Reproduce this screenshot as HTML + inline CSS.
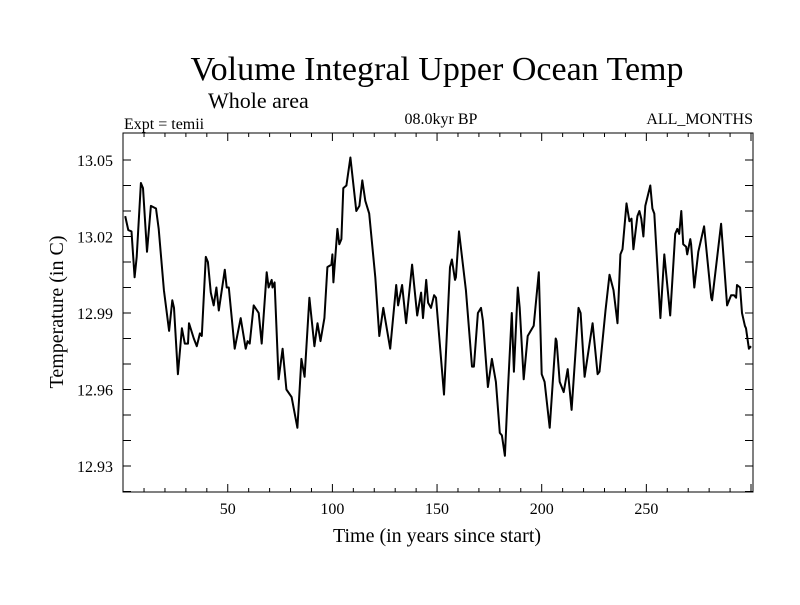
<!DOCTYPE html>
<html><head><meta charset="utf-8"><style>
body{margin:0;background:#fff;}
svg text{font-family:"Liberation Serif",serif;fill:#000;}
</style></head><body>
<svg width="800" height="600" viewBox="0 0 800 600">
<rect width="800" height="600" fill="#fff"/>
<text x="437" y="80" font-size="34" text-anchor="middle">Volume Integral Upper Ocean Temp</text>
<text x="208" y="108" font-size="22">Whole area</text>
<text x="124" y="129" font-size="16">Expt = temii</text>
<text x="441" y="124" font-size="16" text-anchor="middle">08.0kyr BP</text>
<text x="753" y="124" font-size="16" text-anchor="end">ALL_MONTHS</text>
<text x="437" y="542" font-size="20" text-anchor="middle">Time (in years since start)</text>
<text transform="translate(63,312) rotate(-90)" font-size="20" text-anchor="middle">Temperature (in C)</text>
<g id="axes"></g>
<path id="series" fill="none" stroke="#000" stroke-width="2" stroke-linejoin="round"/>
<rect x="123" y="133" width="630" height="359" fill="none" stroke="#000" stroke-width="1"/>
</svg>
<script>
const years=[1,2.5,4,5.5,6.5,8.5,9.5,11.4,13.3,15.7,17,19.5,22,23.5,24.3,26.2,28.1,29.5,31,31.5,33.8,35.2,36.7,37.6,39.5,40.5,41.9,43.3,44.6,45.7,48.6,49.5,50.5,53.3,56.2,58.6,59.5,60.5,62.4,64.8,66.2,68.6,69.5,71,71.4,72.4,74.3,76.2,78,80.5,83.3,85.2,86.7,89,91.4,92.9,94.3,96.2,97.6,99.5,100,100.5,102.4,103.3,104.3,105.2,106.7,108.6,111.4,112.9,114.3,115.7,117.6,120.5,122.4,124.3,127.6,130.5,131.4,133.3,135.2,138.1,140.5,142.4,143.3,144.8,145.7,147.1,148.6,149.5,153.3,156.2,157.1,158.6,159,160.5,163.8,166.7,167.6,169.5,171,171.9,174.3,176.2,178.1,180,181,182.4,183.8,185.7,186.7,188.6,189.5,191.4,193.3,196.2,198.6,200,201.4,203.8,206.7,207.1,208.6,210.5,212.4,214.3,217.6,218.6,220.5,224.3,226.7,227.6,230.5,232.4,234.3,236.2,237.6,238.6,240.5,241.9,242.9,243.8,245.7,246.7,247.6,248.6,249.5,251.9,252.9,253.8,256.7,258.6,261.4,263.8,264.8,265.7,266.7,267.6,269,269.5,271,271.4,272.9,274.8,277.6,281,281.4,285.7,288.6,290.5,291.9,292.9,293.3,294.8,295.7,297.1,297.6,299,300];
const temps=[13.028,13.0225,13.022,13.004,13.012,13.041,13.039,13.014,13.032,13.031,13.023,12.999,12.983,12.995,12.992,12.966,12.984,12.978,12.978,12.986,12.980,12.977,12.982,12.981,13.012,13.010,12.998,12.993,13.000,12.991,13.007,13.000,13.000,12.976,12.988,12.976,12.979,12.978,12.993,12.990,12.978,13.006,13.000,13.003,13.000,13.002,12.964,12.976,12.960,12.957,12.945,12.972,12.965,12.996,12.977,12.986,12.979,12.988,13.008,13.009,13.013,13.002,13.023,13.017,13.019,13.039,13.040,13.051,13.030,13.032,13.042,13.034,13.029,13.004,12.981,12.992,12.976,13.001,12.993,13.001,12.986,13.009,12.989,12.998,12.988,13.003,12.994,12.992,12.997,12.996,12.958,13.008,13.011,13.003,13.004,13.022,12.999,12.969,12.969,12.990,12.992,12.987,12.961,12.972,12.963,12.943,12.942,12.934,12.959,12.990,12.967,13.000,12.992,12.964,12.981,12.985,13.006,12.966,12.963,12.945,12.980,12.979,12.963,12.959,12.968,12.952,12.992,12.990,12.965,12.986,12.966,12.967,12.991,13.005,12.999,12.986,13.013,13.015,13.033,13.026,13.027,13.015,13.028,13.030,13.027,13.020,13.032,13.040,13.031,13.029,12.988,13.013,12.989,13.021,13.023,13.021,13.030,13.017,13.016,13.013,13.019,13.017,13.000,13.014,13.024,12.996,12.995,13.025,12.993,12.997,12.997,12.996,13.001,13.000,12.990,12.985,12.984,12.976,12.977];
const xTickLabels=[50,100,150,200,250];
const yTickLabels=["12.93","12.96","12.99","13.02","13.05"];
const X0=123,X1=753,Y0=133,Y1=492;
function xs(v){return 123.1+(v)*2.093;}
function ys(v){return 160+(13.05-v)*2550;}
const NS="http://www.w3.org/2000/svg";
const ax=document.getElementById('axes');
function mk(tag,attrs){const e=document.createElementNS(NS,tag);for(const k in attrs)e.setAttribute(k,attrs[k]);ax.appendChild(e);return e;}
for(let t=10;t<=300;t+=10){
  const len=(t%50===0)?8:4;const x=xs(t);
  const b=mk('line',{x1:x,x2:x,y1:Y1,y2:Y1-len,stroke:'#000'});
  
  
  const tp=mk('line',{x1:x,x2:x,y1:Y0,y2:Y0+len,stroke:'#000'});
  
  
}
xTickLabels.forEach(v=>{
  const t=mk('text',{x:xs(v),y:514,'font-size':16,'text-anchor':'middle'});t.textContent=v;
  
  
});
for(let k=0;k<=13;k++){
  const v=12.92+k*0.01;const y=ys(v);
  if(y<Y0||y>Y1)continue;
  const l=mk('line',{x1:X0,x2:X0+8,y1:y,y2:y,stroke:'#000'});
  
  
  const r=mk('line',{x1:X1,x2:X1-8,y1:y,y2:y,stroke:'#000'});
  
  
}
yTickLabels.forEach(s=>{
  const t=mk('text',{x:113,y:ys(parseFloat(s))+6,'font-size':16,'text-anchor':'end'});t.textContent=s;
  
  
});
let d='';
years.forEach((yr,i)=>{d+=(i?'L':'M')+xs(yr).toFixed(1)+','+ys(temps[i]).toFixed(1);});
document.getElementById('series').setAttribute('d',d);
</script>
</body></html>
